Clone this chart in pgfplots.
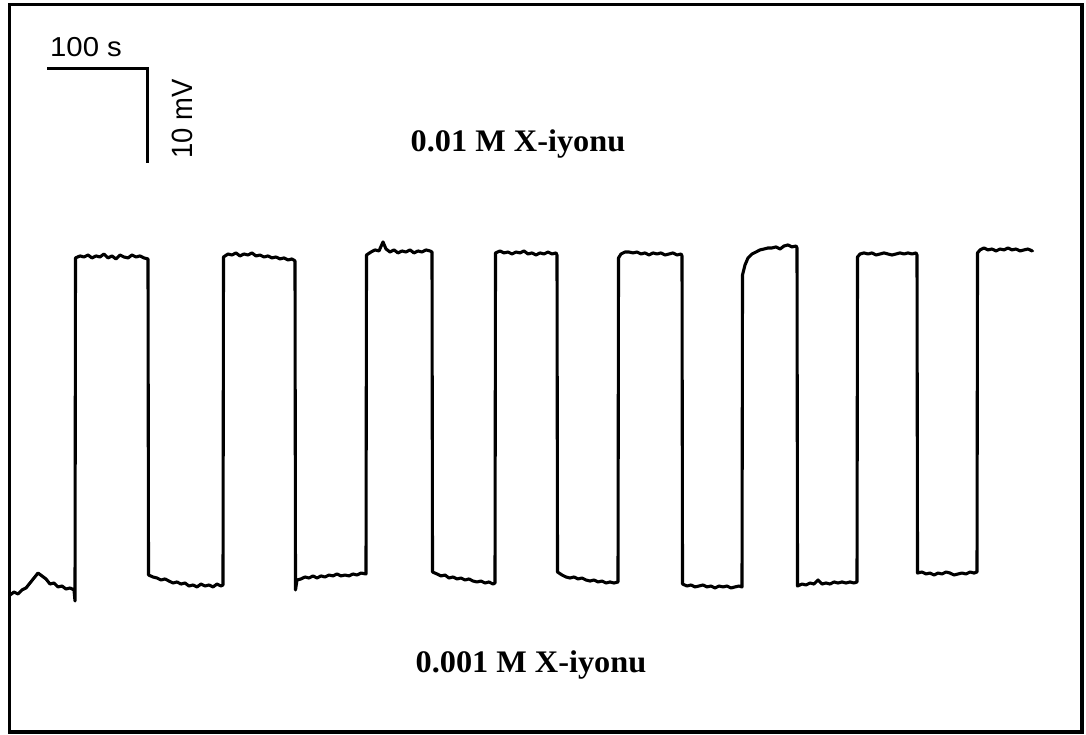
\documentclass[border=0pt]{standalone}
\usepackage{pgfplots}
\pgfplotsset{compat=1.18}
\usepackage{fontspec}
\setmainfont{Liberation Serif}
\newfontfamily\arial{Liberation Sans}
\begin{document}
\begin{tikzpicture}
\begin{axis}[
  scale only axis,
  width=1072.5bp, height=727.5bp,
  xmin=-0.5, xmax=1072,
  ymin=0, ymax=77.39,
  xtick=\empty, ytick=\empty,
  axis line style={line width=3.5bp, black},
  clip=false,
]
\coordinate (SW) at (rel axis cs:0,0);
\coordinate (NE) at (rel axis cs:1,1);
% potential trace (t in s, E in mV)
\addplot[black, line width=3.1bp, line join=round] coordinates {
(0,14.57)(4,14.89)(8,14.68)(12,15.11)(16,15.32)(20,15.85)(24,16.38)(28,16.91)(32,16.60)(36,16.28)(40,15.74)(44,15.85)(48,15.43)(52,15.53)(56,15.21)(60,15.32)(64,15.11)(65,13.94)
(65.5,50.43)(70,50.64)(74,50.53)(78,50.74)(82,50.43)(86,50.64)(90,50.53)(94,50.85)(98,50.43)(102,50.64)(106,50.32)(110,50.74)(114,50.53)(118,50.43)(122,50.74)(126,50.53)(130,50.64)(134,50.43)(138,50.32)
(138.5,16.70)(143,16.49)(147,16.38)(151,16.17)(155,16.28)(159,16.06)(163,15.85)(167,15.96)(171,15.74)(175,15.85)(179,15.53)(183,15.64)(187,15.43)(191,15.74)(195,15.53)(199,15.64)(203,15.43)(207,15.74)(211,15.53)(213,15.64)
(213.5,50.53)(218,50.85)(222,50.74)(226,50.96)(230,50.64)(234,50.85)(238,50.74)(242,50.96)(246,50.64)(250,50.74)(254,50.53)(258,50.64)(262,50.43)(266,50.53)(270,50.32)(274,50.43)(278,50.21)(282,50.32)(285,50.11)
(285.5,15.11)(287,16.17)(291,16.28)(295,16.49)(299,16.38)(303,16.60)(307,16.38)(311,16.60)(315,16.49)(319,16.70)(323,16.60)(327,16.81)(331,16.60)(335,16.70)(339,16.60)(343,16.81)(347,16.70)(351,16.91)(356,16.81)
(356.5,50.74)(361,51.06)(365,51.28)(369,51.17)(373,52.13)(376,51.38)(380,51.06)(384,51.28)(388,50.96)(392,51.17)(396,51.06)(400,51.28)(404,50.96)(408,51.17)(412,51.06)(416,51.28)(420,51.17)(422,51.06)
(422.5,17.02)(427,16.81)(431,16.60)(435,16.70)(439,16.38)(443,16.49)(447,16.28)(451,16.38)(455,16.17)(459,16.28)(463,16.06)(467,15.96)(471,16.06)(475,15.85)(479,15.96)(483,15.74)(485,15.85)
(485.5,50.96)(490,51.17)(494,50.96)(498,51.06)(502,50.85)(506,51.06)(510,50.96)(514,51.17)(518,50.85)(522,50.96)(526,50.74)(530,50.96)(534,50.85)(538,51.06)(542,50.85)(546,50.96)(547,50.74)
(547.5,17.02)(552,16.70)(556,16.49)(560,16.38)(564,16.49)(568,16.28)(572,16.38)(576,16.17)(580,16.06)(584,16.17)(588,15.96)(592,16.06)(596,15.85)(600,15.96)(604,15.85)(608,15.96)
(608.5,50.43)(611,50.85)(615,51.06)(619,51.06)(623,50.96)(627,51.06)(631,50.85)(635,50.96)(639,50.74)(643,50.96)(647,50.85)(651,50.96)(655,50.74)(659,50.85)(663,50.96)(667,50.74)(671,50.85)(672,50.64)
(672.5,15.74)(677,15.53)(681,15.64)(685,15.43)(689,15.53)(693,15.64)(697,15.43)(701,15.53)(705,15.32)(709,15.53)(713,15.43)(717,15.53)(721,15.32)(725,15.43)(729,15.53)(732,15.43)
(732.5,48.62)(735,49.68)(738,50.43)(742,50.85)(746,51.06)(750,51.28)(754,51.38)(758,51.49)(762,51.49)(766,51.60)(770,51.38)(774,51.70)(778,51.81)(782,51.60)(786,51.70)(787,51.49)
(787.5,15.53)(792,15.74)(796,15.64)(800,15.85)(804,15.74)(808,16.17)(812,15.74)(816,15.85)(820,15.74)(824,15.96)(828,15.85)(832,15.96)(836,15.85)(840,15.96)(844,15.85)(847,15.96)
(847.5,50.53)(850,50.85)(854,50.96)(858,50.85)(862,50.96)(866,50.74)(870,50.85)(874,50.96)(878,50.85)(882,50.74)(886,50.85)(890,50.96)(894,50.85)(898,50.96)(902,50.85)(906,50.96)(907,50.74)
(907.5,16.91)(912,17.02)(916,16.81)(920,16.91)(924,16.70)(928,16.91)(932,16.81)(936,17.02)(940,16.91)(944,16.70)(948,16.81)(952,16.91)(956,16.81)(960,17.02)(964,16.91)(967,17.02)
(967.5,50.96)(970,51.28)(974,51.49)(978,51.28)(982,51.38)(986,51.17)(990,51.38)(994,51.28)(998,51.49)(1002,51.28)(1006,51.38)(1010,51.17)(1014,51.28)(1018,51.38)(1022,51.17)(1023,51.28)
};
% scale bar: 100 s and 10 mV
\addplot[black, line width=3bp] coordinates {(37,70.53)(137,70.53)(137,60.53)};
\node[anchor=base west, inner sep=0pt] at (axis cs:40,71.81)
  {\arial\fontsize{27.5}{32}\selectfont\scalebox{1.07}[1]{100 s}};
\node[anchor=base, rotate=90, inner sep=0pt] at (axis cs:182,65.21)
  {\arial\fontsize{27.5}{32}\selectfont\scalebox{1}[1.07]{10 mV}};
\node[anchor=base, inner sep=0pt] at (axis cs:508,61.70)
  {\bfseries\fontsize{31.5}{36}\selectfont\scalebox{1.03}[1]{0.01 M X-iyonu}};
\node[anchor=base, inner sep=0pt] at (axis cs:521,6.28)
  {\bfseries\fontsize{31.5}{36}\selectfont\scalebox{1.03}[1]{0.001 M X-iyonu}};
\end{axis}
\path[use as bounding box] ([shift={(-9.5bp,-3bp)}]SW) rectangle ([shift={(4bp,4.5bp)}]NE);
\end{tikzpicture}
\end{document}
